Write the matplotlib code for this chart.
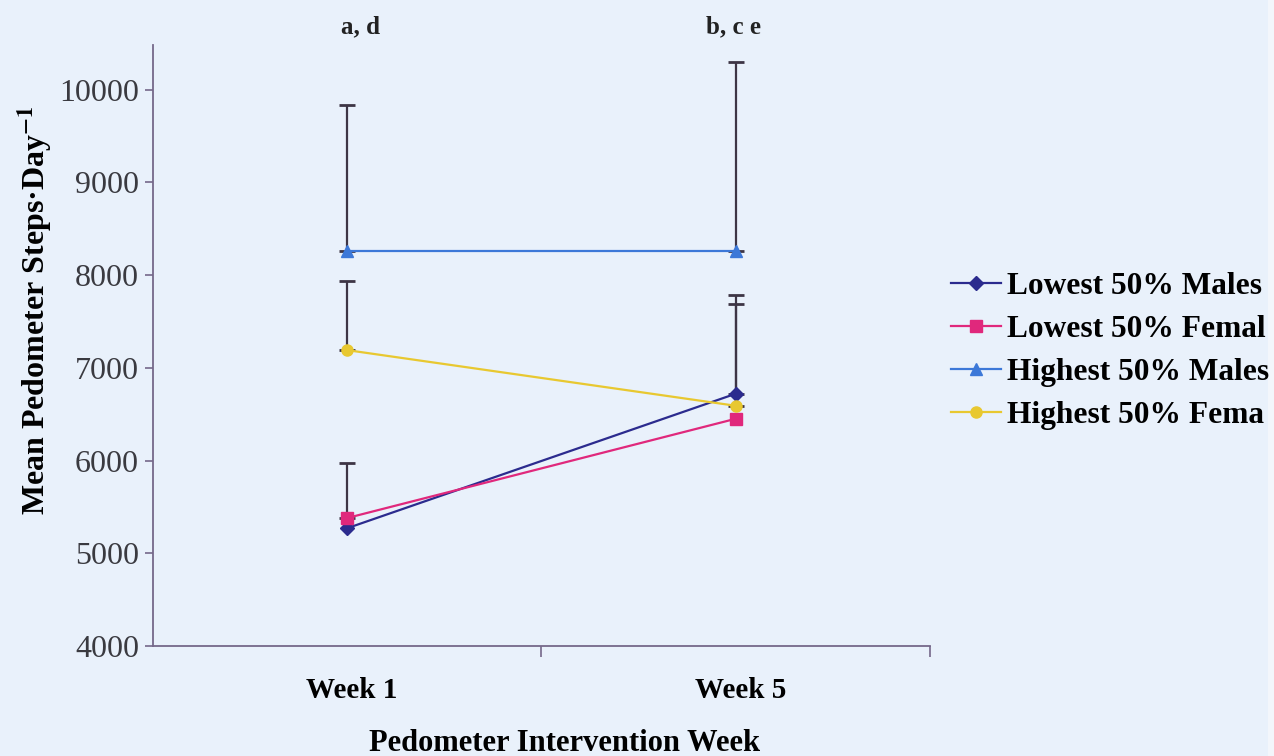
import matplotlib
matplotlib.use('Agg')
import matplotlib.pyplot as plt
from matplotlib.patches import Rectangle

# values (mean steps/day, upper SD bar)
weeks = ["Week 1", "Week 5"]
lowest_males = [5270, 6720]
lowest_females = [5380, 6450]
highest_males = [8260, 8260]
highest_females = [7190, 6590]
lowest_males_sd = [0, 1065]
lowest_females_sd = [590, 0]
highest_males_sd = [1570, 2040]
highest_females_sd = [745, 1100]
# legend labels as they appear (cut at the page edge in the scan)
labels = ["Lowest 50% Males", "Lowest 50% Femal",
          "Highest 50% Males", "Highest 50% Fema"]
sig_marks = ["a, d", "b, c e"]

bg = "#e9f1fb"
serif = ["Liberation Serif", "DejaVu Serif"]
plt.rcParams['font.family'] = serif
plt.rcParams['mathtext.fontset'] = 'stix'

fig = plt.figure(figsize=(12.74, 7.56), dpi=100, facecolor=bg)
ax = fig.add_axes([0.120, 0.1455, 0.610, 0.795])
ax.set_facecolor(bg)

x = [0, 1]
series = [
    (lowest_males, lowest_males_sd, "#2b2b8e", "D", 7),
    (lowest_females, lowest_females_sd, "#e0287c", "s", 8),
    (highest_males, highest_males_sd, "#3c78d8", "^", 9),
    (highest_females, highest_females_sd, "#e8c830", "o", 8),
]
err_col = "#3d3545"
handles = []
for (vals, sd, col, mk, ms), lab in zip(series, labels):
    for xi, v, u in zip(x, vals, sd):
        if u > 0:
            ax.errorbar([xi], [v], yerr=[[0], [u]], fmt='none', ecolor=err_col,
                        elinewidth=1.6, capsize=6, capthick=2, zorder=2)
    h, = ax.plot(x, vals, color=col, marker=mk, markersize=ms, linewidth=1.6,
                 label=lab, zorder=3)
    handles.append(h)

ax.set_xlim(-0.5, 1.5)
ax.set_ylim(4000, 10480)
ax.set_yticks(range(4000, 10001, 1000))
ax.set_xticks([0.5, 1.5])
ax.set_xticklabels([])
ax.set_xticks([0.012, 1.012], minor=True)
ax.set_xticklabels(weeks, minor=True, fontsize=21, fontweight='bold')
ax.tick_params(axis='x', which='minor', length=0, pad=22)
ax.tick_params(axis='x', which='major', length=8, width=1.2, color="#75688a")
ax.tick_params(axis='y', length=6, width=1.2, color="#75688a", labelsize=23,
               labelcolor="#3a3a40", pad=4)
for s in ["top", "right"]:
    ax.spines[s].set_visible(False)
for s in ["left", "bottom"]:
    ax.spines[s].set_color("#75688a")
    ax.spines[s].set_linewidth(1.3)

for xi, txt in zip([0.035, 0.993], sig_marks):
    ax.text(xi, 1.03, txt, transform=ax.get_xaxis_transform(), ha='center',
            va='center', fontsize=18, fontweight='bold', color="#222222")

ax.set_xlabel("Pedometer Intervention Week", fontsize=22, fontweight='bold')
ax.xaxis.set_label_coords((565 - 153) / 777, -0.163)
ax.xaxis.label.set_va('center')
fig.text(0.028, 0.59, "Mean Pedometer Steps·Day$^{\\mathbf{-1}}$", rotation=90,
         ha='center', va='center', fontsize=23, fontweight='bold')

leg = fig.legend(handles, labels, loc='center left',
                 bbox_to_anchor=(951 / 1274, 1 - 351 / 756), frameon=False,
                 prop={'family': serif, 'weight': 'bold', 'size': 22.6},
                 handlelength=1.6, handletextpad=0.2, labelspacing=0.44,
                 borderpad=0, borderaxespad=0)

# pale strip at the right edge of the scan
fig.patches.append(Rectangle((1268 / 1274, 0), 6 / 1274, 1, transform=fig.transFigure,
                             facecolor="#f3f6fb", edgecolor='none', zorder=5))

fig.savefig("out.png", dpi=100, facecolor=bg)
